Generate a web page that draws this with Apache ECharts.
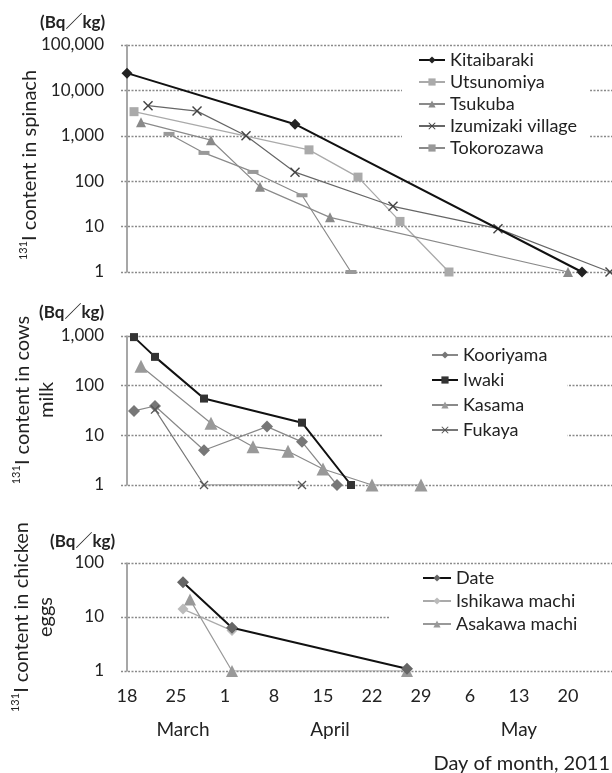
<!DOCTYPE html>
<html><head><meta charset="utf-8">
<script src="https://cdn.jsdelivr.net/npm/echarts@6/dist/echarts.min.js"></script>
<style>html,body{margin:0;padding:0;background:#fff}#c{width:612px;height:773px}</style>
</head><body><div id="c"></div>
<script>
// ---------- data ----------
const xTickDates = ['2011-03-18','2011-03-25','2011-04-01','2011-04-08','2011-04-15','2011-04-22','2011-04-29','2011-05-06','2011-05-13','2011-05-20'];
const monthNames = ['March','April','May'];
const monthCenters = ['2011-03-26','2011-04-16','2011-05-13'];

// spinach (Bq/kg)
const kitaibaraki = [['2011-03-18',24000],['2011-04-11',1800],['2011-05-22',1]];
const utsunomiya  = [['2011-03-19',3400],['2011-04-13',490],['2011-04-20',123],['2011-04-26',13],['2011-05-03',1]];
const tsukuba     = [['2011-03-20',2000],['2011-03-30',800],['2011-04-06',75],['2011-04-16',16],['2011-05-20',1]];
const izumizaki   = [['2011-03-21',4600],['2011-03-28',3500],['2011-04-04',1000],['2011-04-11',158],['2011-04-25',28],['2011-05-10',9],['2011-05-26',1]];
const tokorozawa  = [['2011-03-24',1100],['2011-03-29',420],['2011-04-05',160],['2011-04-12',49],['2011-04-19',1]];
// cows milk (Bq/kg)
const kooriyama = [['2011-03-19',31],['2011-03-22',39],['2011-03-29',5],['2011-04-07',15],['2011-04-12',7.4],['2011-04-17',1]];
const iwaki     = [['2011-03-19',950],['2011-03-22',380],['2011-03-29',55],['2011-04-12',18],['2011-04-19',1]];
const kasama    = [['2011-03-20',245],['2011-03-30',17.5],['2011-04-05',5.9],['2011-04-10',4.8],['2011-04-15',2.1],['2011-04-22',1],['2011-04-29',1]];
const fukaya    = [['2011-03-22',33],['2011-03-29',1],['2011-04-12',1]];
// chicken eggs (Bq/kg)
const dateEggs     = [['2011-03-26',44],['2011-04-02',6.3],['2011-04-27',1.1]];
const ishikawaEggs = [['2011-03-26',14],['2011-04-02',5.6]];
const asakawaEggs  = [['2011-03-27',21],['2011-04-02',1],['2011-04-27',1]];

// ---------- helpers ----------
const DAY = 86400000;
function dms(s){ const p = s.split('-').map(Number); return Date.UTC(p[0], p[1]-1, p[2]); }
const t0 = dms('2011-03-18');
function dayOf(s){ return Math.round((dms(s) - t0) / DAY); }
function dateOfDay(d){ return new Date(t0 + d*DAY); }
const xMin = -0.86, xMax = 69.29;
const tickDays = xTickDates.map(dayOf);
const monthDays = monthCenters.map(dayOf);
const XPATH = 'path://M0,1L1,0L5,4L9,0L10,1L6,5L10,9L9,10L5,6L1,10L0,9L4,5Z';
const FONT = 'Lato, "Noto Sans CJK JP", sans-serif';

function mk(name, data, gi, st){
  return {
    name, type:'line', xAxisIndex: gi, yAxisIndex: gi,
    data: data.map(d => [dayOf(d[0]), d[1]]),
    symbol: st.symbol, symbolSize: st.size, showSymbol: true,
    lineStyle: {color: st.line, width: st.w},
    itemStyle: {color: st.fill, borderColor: st.border || st.fill, borderWidth: st.bw || 0},
    z: st.z || 2
  };
}

const grids = [
  {left:121, right:0, top:45, height:227},
  {left:121, right:0, top:336, height:149},
  {left:121, right:0, top:563, height:108}
];
const yMax = [100000, 1000, 100];
const splitStyle = {color:'#8a8a8a', width:1.3, type:[2,1.5]};

const yAxes = yMax.map((m,i) => ({
  type:'log', logBase:10, min:1, max:m, gridIndex:i,
  axisLine:{show:true, lineStyle:{color:'#8a8a8a', width:1.5}},
  axisTick:{show:false},
  splitLine:{show:true, lineStyle:splitStyle},
  axisLabel:{fontSize:17, fontFamily:FONT, color:'#222', margin:17,
    formatter: v => Math.round(v).toLocaleString('en-US')}
}));

const hiddenX = i => ({type:'value', gridIndex:i, min:xMin, max:xMax, show:false, splitLine:{show:false}});
const xAxes = [
  hiddenX(0), hiddenX(1),
  {type:'value', gridIndex:2, min:xMin, max:xMax,
   axisLine:{show:false}, axisTick:{show:false}, splitLine:{show:false},
   axisLabel:{customValues: tickDays, fontSize:18, fontFamily:FONT, color:'#222', margin:16,
     formatter: v => String(dateOfDay(Math.round(v)).getUTCDate())}},
  {type:'value', gridIndex:2, min:xMin, max:xMax, position:'bottom', offset:39,
   axisLine:{show:false}, axisTick:{show:false}, splitLine:{show:false},
   axisLabel:{customValues: monthDays, fontSize:19, fontFamily:FONT, color:'#222', margin:10,
     formatter: v => { let k = 0, best = Infinity; monthDays.forEach((m,j)=>{ if(Math.abs(m-v)<best){best=Math.abs(m-v);k=j;} }); return monthNames[k]; }}}
];

const series = [
  mk('Kitaibaraki', kitaibaraki, 0, {symbol:'diamond', size:11, line:'#111', w:2, fill:'#222', z:5}),
  mk('Utsunomiya', utsunomiya, 0, {symbol:'rect', size:9, line:'#aaa', w:1.3, fill:'#aaa'}),
  mk('Tsukuba', tsukuba, 0, {symbol:'triangle', size:10, line:'#8a8a8a', w:1.2, fill:'#8a8a8a'}),
  mk('Izumizaki village', izumizaki, 0, {symbol:XPATH, size:10, line:'#666', w:1.2, fill:'#444'}),
  mk('Tokorozawa', tokorozawa, 0, {symbol:'rect', size:[11,4], line:'#8a8a8a', w:1.2, fill:'#999'}),
  mk('Kooriyama', kooriyama, 1, {symbol:'diamond', size:12, line:'#888', w:1.2, fill:'#777'}),
  mk('Iwaki', iwaki, 1, {symbol:'rect', size:8, line:'#111', w:2, fill:'#333', z:5}),
  mk('Kasama', kasama, 1, {symbol:'triangle', size:13, line:'#8a8a8a', w:1.2, fill:'#999'}),
  mk('Fukaya', fukaya, 1, {symbol:XPATH, size:9, line:'#777', w:1.2, fill:'#555'}),
  mk('Date', dateEggs, 2, {symbol:'diamond', size:12, line:'#111', w:2, fill:'#666', z:5}),
  mk('Ishikawa machi', ishikawaEggs, 2, {symbol:'diamond', size:11, line:'#aaa', w:1.2, fill:'#bbb'}),
  mk('Asakawa machi', asakawaEggs, 2, {symbol:'triangle', size:12, line:'#999', w:1.2, fill:'#999'})
];

const legTxt = {fontSize:18, fontFamily:FONT, color:'#222', lineHeight:20};
const legends = [
  {data:['Kitaibaraki','Utsunomiya','Tsukuba','Izumizaki village','Tokorozawa'], orient:'vertical',
   left:402, top:50, padding:[0,13,9,16], itemGap:2, itemWidth:26, itemHeight:9, backgroundColor:'#fff', textStyle:legTxt},
  {data:['Kooriyama','Iwaki','Kasama','Fukaya'], orient:'vertical',
   left:382, top:340, padding:[5,20,30,49], itemGap:5, itemWidth:26, itemHeight:9, backgroundColor:'#fff', textStyle:legTxt},
  {data:['Date','Ishikawa machi','Asakawa machi'], orient:'vertical',
   left:390, top:566, padding:[2,35,20,32], itemGap:3, itemWidth:28, itemHeight:9, backgroundColor:'#fff', textStyle:legTxt}
];

const supRich = {sup:{fontSize:11, verticalAlign:'top', fontFamily:FONT, fill:'#222', lineHeight:24}};
function title(text, x, y){
  return {type:'text', x, y, rotation:Math.PI/2, z:10,
    style:{text, fontSize:20, fontFamily:FONT, fill:'#222', align:'center', verticalAlign:'middle', lineHeight:24, rich:supRich}};
}
function unit(x, y){
  return {type:'text', x, y, z:10, style:{text:'(Bq／kg)', fontSize:17, fontWeight:'bold', fontFamily:FONT, fill:'#222', align:'left', verticalAlign:'middle'}};
}

const chart = echarts.init(document.getElementById('c'), null, {renderer:'canvas'});
chart.setOption({
  backgroundColor:'#fff',
  animation:false,
  grid: grids,
  xAxis: xAxes,
  yAxis: yAxes,
  legend: legends,
  series,
  graphic: [
    title('{sup|131}I content in spinach', 30, 165),
    title('{sup|131}I content in cows\nmilk', 35, 400),
    title('{sup|131}I content in chicken\neggs', 34, 617),
    unit(40, 23), unit(39, 313), unit(50, 542),
    {type:'text', x:610, y:764, style:{text:'Day of month, 2011', fontSize:20, fontFamily:FONT, fill:'#222', align:'right', verticalAlign:'middle'}}
  ]
});
</script></body></html>
